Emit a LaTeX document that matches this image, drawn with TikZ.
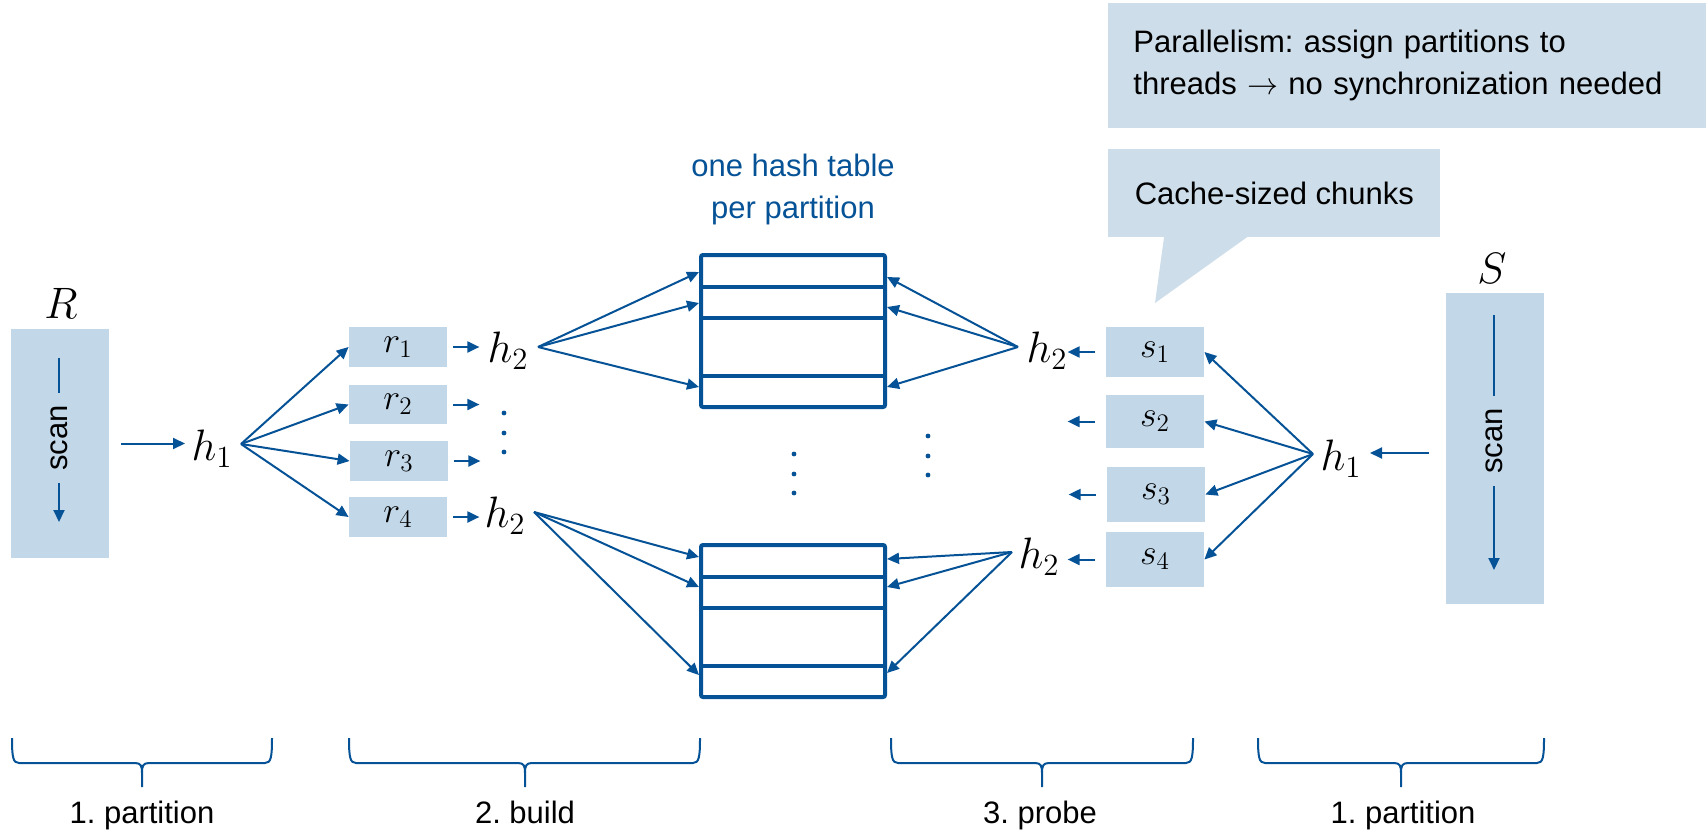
\RequirePackage{fix-cm}
\documentclass[tikz,border=0pt]{standalone}
\usepackage{fontspec}
\setmainfont{Liberation Sans}
\usetikzlibrary{arrows.meta}
\frenchspacing

\definecolor{hjblue}{RGB}{6,82,150}
\definecolor{hjbox}{RGB}{194,216,233}
\definecolor{hjnote}{RGB}{205,221,233}

% curly brace under one phase: left end, tip, right end
\newcommand{\phbrace}[3]{%
  \draw[brc] (#1,738) .. controls (#1,757) and (#1+1,763) .. (#1+7,763)
    -- (#2-7,763) .. controls (#2-1,763) and (#2,766) .. (#2,773) -- (#2,787)
    (#2,773) .. controls (#2,766) and (#2+1,763) .. (#2+7,763)
    -- (#3-7,763) .. controls (#3-1,763) and (#3,757) .. (#3,738);}

\begin{document}
\begin{tikzpicture}[x=0.5pt,y=-0.5pt,
  txt/.style={font=\fontsize{15.5}{21}\selectfont},
  arr/.style={draw=hjblue, line width=1pt, -{Triangle[length=6pt,width=5.5pt]}},
  plain/.style={draw=hjblue, line width=1pt},
  rel/.style={fill=hjbox, minimum width=49pt, inner sep=0pt},
  chunk/.style={rel, font=\fontsize{18}{18}\selectfont},
  hfun/.style={inner sep=0pt, font=\fontsize{22}{22}\selectfont},
  scanlbl/.style={txt, rotate=90, inner xsep=6pt, inner ysep=0pt},
  htab/.style={draw=hjblue, line width=2pt, minimum width=92pt, minimum height=76pt,
    inner sep=0pt, rounded corners=1pt},
  sep/.style={draw=hjblue, line width=1.8pt},
  dot/.style={circle, fill=hjblue, inner sep=0pt, minimum size=2.4pt},
  brc/.style={draw=hjblue, line width=1pt},
  note/.style={fill=hjnote, txt}
]
\useasboundingbox (0,0) rectangle (1706,830);

% ---------- relation R ----------
\node[rel, minimum height=114.5pt] (R) at (60,443.5) {};
\node[hfun] (Rlab) at (61,303) {$R$};
\node[scanlbl] (Rscan) at (59,438) {scan};
\coordinate (Rtop) at (59,358);
\coordinate (Rbot) at (59,522);
\draw[plain] (Rtop) -- (Rscan.east);
\draw[arr] (Rscan.west) -- (Rbot);

\node[hfun] (h1L) at (212,449) {$h_1$};
\coordinate (h1L-in) at (185,443.5);
\coordinate (h1L-o) at (241,444);
\draw[arr] ([xshift=6pt]R.east) -- (h1L-in);

% partitions of R
\node[chunk, minimum height=20pt] (r1) at (398,347) {$r_1$};
\node[chunk, minimum height=19.5pt] (r2) at (398,404.5) {$r_2$};
\node[chunk, minimum height=20pt] (r3) at (399,461) {$r_3$};
\node[chunk, minimum height=20pt] (r4) at (398,517) {$r_4$};
\foreach \b in {r1,r2,r3,r4}{
  \draw[arr] (h1L-o) -- (\b.west);
  \draw[arr] ([xshift=3pt]\b.east) -- ([xshift=16pt]\b.east);
}

% hash functions h2 on the build side
\node[hfun] (h2a) at (508,351) {$h_2$};
\node[hfun] (h2b) at (505,516) {$h_2$};
\coordinate (h2a-o) at (538,347);
\coordinate (h2b-o) at (534,512);
\foreach \y in {413,433,452} \node[dot] at (504,\y) {};

% ---------- hash tables ----------
\node[txt, text=hjblue, align=center] (htcap) at (793,189) {one hash table\\per partition};

\node[htab] (Ta) at (793,331) {};
\foreach \y in {287,318,376} \draw[sep] (701,\y) -- (885,\y);
\node[htab] (Tb) at (793,621) {};
\foreach \y in {577,608,666} \draw[sep] (701,\y) -- (885,\y);
\foreach \y in {454,474,493} \node[dot] at (794,\y) {};

% bucket entry points
\foreach \y [count=\i] in {272,303,387} \coordinate (TaL\i) at (699,\y);
\foreach \y [count=\i] in {277,307,387} \coordinate (TaR\i) at (887,\y);
\foreach \y [count=\i] in {557,587,675} \coordinate (TbL\i) at (699,\y);
\foreach \y [count=\i] in {559,587,673} \coordinate (TbR\i) at (887,\y);

\foreach \i in {1,2,3}{
  \draw[arr] (h2a-o) -- (TaL\i);
  \draw[arr] (h2b-o) -- (TbL\i);
}

% hash functions h2 on the probe side
\node[hfun] (h2c) at (1047,351) {$h_2$};
\node[hfun] (h2d) at (1039,557) {$h_2$};
\coordinate (h2c-o) at (1018,347);
\coordinate (h2d-o) at (1012,552);
\foreach \i in {1,2,3}{
  \draw[arr] (h2c-o) -- (TaR\i);
  \draw[arr] (h2d-o) -- (TbR\i);
}
\foreach \y in {436,456,475} \node[dot] at (928,\y) {};

% partitions of S
\node[chunk, minimum height=25pt] (s1) at (1155,352) {$s_1$};
\node[chunk, minimum height=26.5pt] (s2) at (1155,421.5) {$s_2$};
\node[chunk, minimum height=27.5pt] (s3) at (1156,494.5) {$s_3$};
\node[chunk, minimum height=27.5pt] (s4) at (1155,559.5) {$s_4$};

\node[hfun] (h1R) at (1341,459) {$h_1$};
\coordinate (h1R-o) at (1313,454);
\foreach \b in {s1,s2,s3,s4}{
  \draw[arr] (h1R-o) -- (\b.east);
  \draw[arr] ([xshift=-5.5pt]\b.west) -- ([xshift=-19pt]\b.west);
}

% ---------- relation S ----------
\node[rel, minimum height=155.5pt] (S) at (1495,448.5) {};
\node[hfun] (Slab) at (1492,268) {$S$};
\node[scanlbl] (Sscan) at (1494,441) {scan};
\coordinate (Stop) at (1494,315);
\coordinate (Sbot) at (1494,570);
\draw[plain] (Stop) -- (Sscan.east);
\draw[arr] (Sscan.west) -- (Sbot);
\coordinate (S-out) at (1429,453);
\coordinate (h1R-in) at (1370,453);
\draw[arr] (S-out) -- (h1R-in);

% ---------- notes ----------
\node[note, anchor=north west, text width=274pt, inner xsep=12.5pt,
  minimum height=62.5pt, align=left] (par) at (1108,3)
  {Parallelism: assign partitions to\\threads $\rightarrow$ no synchronization needed};
\node[note, anchor=north west, minimum width=166pt, minimum height=44pt] (cache) at (1108,149)
  {Cache-sized chunks};
\coordinate (cache-tip) at (1155,303);
\fill[hjnote] ([xshift=28pt,yshift=0.3pt]cache.south west) -- (cache-tip)
  -- ([xshift=69.5pt,yshift=0.3pt]cache.south west) -- cycle;

% ---------- phases ----------
\phbrace{12}{142}{272}
\phbrace{349}{525}{700}
\phbrace{891}{1042}{1193}
\phbrace{1258}{1401}{1544}
\node[txt, anchor=base] (ph1) at (142,823) {1. partition};
\node[txt, anchor=base] (ph2) at (525,823) {2. build};
\node[txt, anchor=base] (ph3) at (1040,823) {3. probe};
\node[txt, anchor=base] (ph4) at (1403,823) {1. partition};
\end{tikzpicture}
\end{document}
